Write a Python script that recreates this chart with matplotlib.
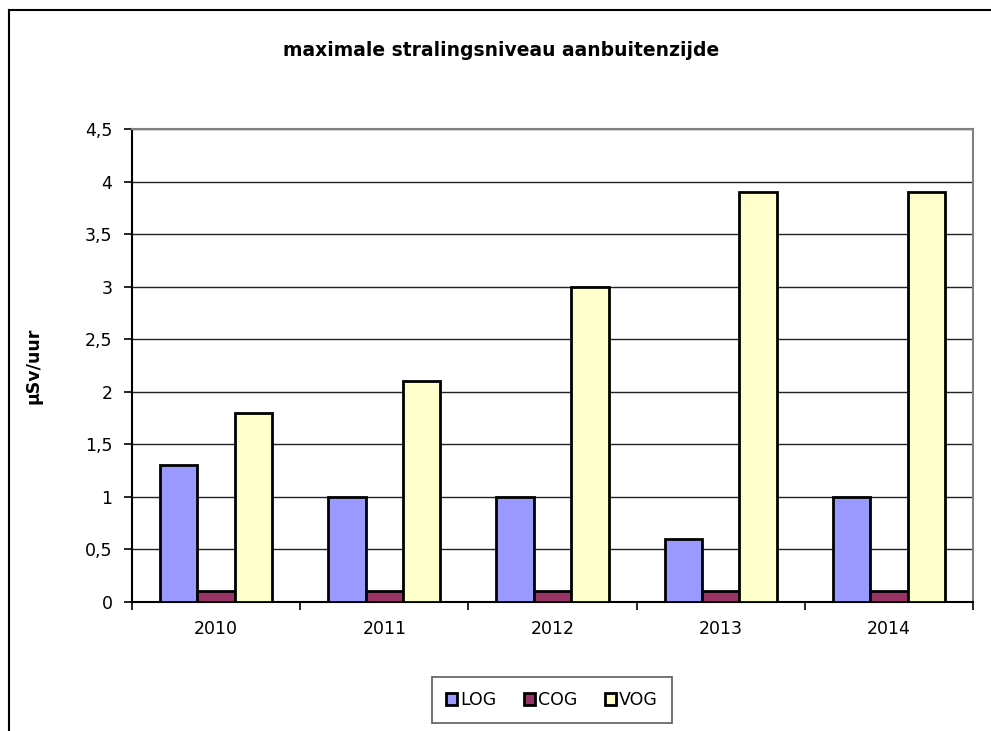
import numpy as np
import matplotlib.pyplot as plt
from matplotlib.lines import Line2D

years = ["2010", "2011", "2012", "2013", "2014"]
log_vals = [1.3, 1.0, 1.0, 0.6, 1.0]
cog_vals = [0.1, 0.1, 0.1, 0.1, 0.1]
vog_vals = [1.8, 2.1, 3.0, 3.9, 3.9]
series_names = ["LOG", "COG", "VOG"]
yticks = [0, 0.5, 1, 1.5, 2, 2.5, 3, 3.5, 4, 4.5]
ytick_labels = ["0", "0,5", "1", "1,5", "2", "2,5", "3", "3,5", "4", "4,5"]

plt.rcParams['font.family'] = ['DejaVu Sans']

fig = plt.figure(figsize=(9.91, 7.31), dpi=100)
ax = fig.add_axes([132 / 991, 1 - 602 / 731, (973 - 132) / 991, (602 - 129) / 731])

# outer chart frame (runs off right and bottom edges)
fig.add_artist(Line2D([8.5 / 991, 8.5 / 991], [1 - 9.5 / 731, -0.05], transform=fig.transFigure, color="black", lw=1.5))
fig.add_artist(Line2D([8.5 / 991, 1.05], [1 - 9.5 / 731, 1 - 9.5 / 731], transform=fig.transFigure, color="black", lw=1.5))

x = np.arange(len(years))
w = 1 / 4.5
colors = ["#9999FF", "#993366", "#FFFFCC"]
for i, vals in enumerate([log_vals, cog_vals, vog_vals]):
    ax.bar(x + (i - 1) * w, vals, width=w, color=colors[i], edgecolor="black", linewidth=2,
           label=series_names[i], zorder=3)

ax.set_xlim(-0.5, len(years) - 0.5)
ax.set_ylim(0, 4.5)
ax.set_yticks(yticks)
ax.set_yticklabels(ytick_labels, fontsize=12.5)
ax.set_xticks(x)
ax.set_xticklabels(years, fontsize=12.5)
ax.set_xticks(np.arange(len(years) + 1) - 0.5, minor=True)
ax.tick_params(axis="x", which="major", length=0, pad=13)
ax.tick_params(axis="x", which="minor", length=6, width=1.2, direction="out")
ax.tick_params(axis="y", length=6, width=1.2, direction="out", pad=8)

ax.grid(axis="y", color="#222222", lw=1, zorder=0)
for s in ["left", "bottom"]:
    ax.spines[s].set_color("black")
    ax.spines[s].set_linewidth(1.5)
for s in ["top", "right"]:
    ax.spines[s].set_color("#808080")
    ax.spines[s].set_linewidth(1.5)

ax.set_ylabel("µSv/uur", fontsize=12.5, fontweight="bold", labelpad=31)
fig.text(501 / 991, 1 - 50 / 731, "maximale stralingsniveau aanbuitenzijde", ha="center", va="center",
         fontsize=13.5, fontweight="bold")

leg = fig.legend(loc="center", bbox_to_anchor=(552 / 991, 1 - 700 / 731), ncol=3, fontsize=12.5,
                 frameon=True, fancybox=False, edgecolor="#333333", handlelength=0.65, handleheight=0.65,
                 handletextpad=0.15, columnspacing=1.6, borderpad=0.8, borderaxespad=0)
leg.get_frame().set_linewidth(1.2)

fig.savefig("out.png", dpi=100)
